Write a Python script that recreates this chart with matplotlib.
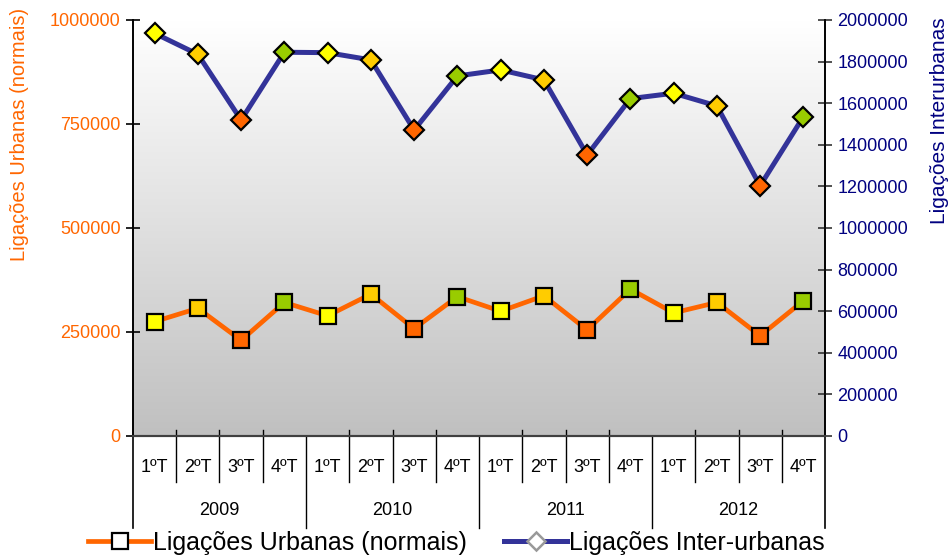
import numpy as np
import matplotlib
matplotlib.use("Agg")
import matplotlib.pyplot as plt
from matplotlib.lines import Line2D
from matplotlib.transforms import blended_transform_factory

plt.rcParams['font.family'] = ['Liberation Sans', 'DejaVu Sans']

years = ["2009", "2010", "2011", "2012"]
quarters = ["1ºT", "2ºT", "3ºT", "4ºT"]

# Ligações Urbanas (normais) - left axis
urbanas = [275000, 307000, 230000, 321000,
           289000, 341000, 258000, 335000,
           300000, 337000, 255000, 353000,
           296000, 321000, 241000, 325000]

# Ligações Inter-urbanas - right axis
interurbanas = [1936000, 1835000, 1519000, 1845000,
                1843000, 1808000, 1471000, 1731000,
                1760000, 1712000, 1351000, 1622000,
                1648000, 1587000, 1203000, 1535000]

quarter_colors = ["#FFFF00", "#FFCC00", "#FF6600", "#99CC00"]

left_ticks = [0, 250000, 500000, 750000, 1000000]
right_ticks = list(range(0, 2000001, 200000))

ORANGE = "#FF6600"
NAVY = "#333399"
DARK_BLUE = "#000080"

fig = plt.figure(figsize=(9.53, 5.56), dpi=100)
ax = fig.add_axes([133 / 953, 1 - 436 / 556, (825 - 133) / 953, 416 / 556])
ax2 = ax.twinx()

n = len(urbanas)
xs = np.arange(n)

# gradient background
grad = np.linspace(1.0, 0.0, 256).reshape(-1, 1)
ax.imshow(grad, extent=[0, 1, 0, 1], transform=ax.transAxes, aspect="auto",
          cmap=matplotlib.colors.LinearSegmentedColormap.from_list(
              "bg", ["#C0C0C0", "#FFFFFF"]), vmin=0, vmax=1, zorder=0)

ax.plot(xs, urbanas, color=ORANGE, lw=3.4, zorder=3)
ax2.plot(xs, interurbanas, color=NAVY, lw=3.6, zorder=3)
for q in range(4):
    ax.plot(xs[q::4], urbanas[q::4], ls="none", marker="s", ms=11,
            mfc=quarter_colors[q], mec="black", mew=1.6, zorder=4)
    ax2.plot(xs[q::4], interurbanas[q::4], ls="none", marker="D", ms=10,
             mfc=quarter_colors[q], mec="black", mew=1.6, zorder=4)

ax.set_xlim(-0.5, n - 0.5)
ax.set_ylim(0, 1000000)
ax2.set_ylim(0, 2000000)

ax.set_yticks(left_ticks)
ax.set_yticklabels([str(t) for t in left_ticks])
ax2.set_yticks(right_ticks)
ax2.set_yticklabels([str(t) for t in right_ticks])
ax.tick_params(axis="y", colors="black", labelcolor=ORANGE, labelsize=13,
               direction="inout", length=10, width=1.2, pad=4)
ax2.tick_params(axis="y", colors="#333333", labelcolor=DARK_BLUE, labelsize=13,
                direction="inout", length=10, width=1.2, pad=4)
ax.set_xticks([])
ax2.set_xticks([])

for a in (ax, ax2):
    a.spines["top"].set_visible(False)
    a.spines["left"].set_color("black")
    a.spines["right"].set_color("black")
    a.spines["bottom"].set_color("#404040")
    a.spines["left"].set_linewidth(1.2)
    a.spines["right"].set_linewidth(1.2)
    a.spines["bottom"].set_linewidth(1.5)

# two-level category axis
trans = blended_transform_factory(ax.transData, ax.transAxes)
for i in range(n):
    ax.text(xs[i], -0.076, quarters[i % 4], transform=trans, ha="center",
            va="center", fontsize=13, color="black")
for k in range(len(years)):
    ax.text(4 * k + 1.5, -0.18, years[k], transform=trans, ha="center",
            va="center", fontsize=13, color="black")
for i in range(1, n):
    if i % 4 == 0:
        ax.plot([i - 0.5, i - 0.5], [0, -0.22], transform=trans, color="black",
                lw=1.0, clip_on=False)
    else:
        ax.plot([i - 0.5, i - 0.5], [0.015, -0.11], transform=trans, color="black",
                lw=1.0, clip_on=False)
for xb in (-0.5, n - 0.5):
    ax.plot([xb, xb], [0, -0.22], transform=trans, color="black", lw=1.2,
            clip_on=False)

fig.text(20 / 953, 1 - 134 / 556, "Ligações Urbanas (normais)", rotation=90,
         ha="center", va="center", fontsize=14.5, color=ORANGE)
fig.text(940 / 953, 1 - 121 / 556, "Ligações Interurbanas", rotation=90,
         ha="center", va="center", fontsize=15, color=DARK_BLUE)

handles = [
    Line2D([], [], color=ORANGE, lw=3.4, marker="s", ms=11, mfc="white",
           mec="black", mew=1.6),
    Line2D([], [], color=NAVY, lw=3.6, marker="D", ms=9, mfc="white",
           mec="#999999", mew=1.8),
]
fig.legend(handles, ["Ligações Urbanas (normais)", "Ligações Inter-urbanas"],
           loc="center", bbox_to_anchor=(0.479, 1 - 543 / 556), ncol=2,
           frameon=False, fontsize=18, handlelength=2.5, handletextpad=0.08,
           columnspacing=1.5, borderpad=0)

fig.savefig("out.png", dpi=100)
